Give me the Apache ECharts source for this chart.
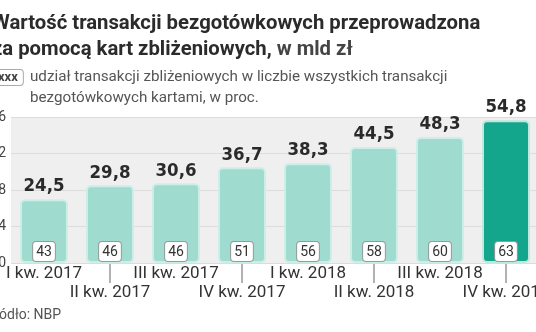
<!DOCTYPE html>
<html><head><meta charset="utf-8">
<script src="https://cdn.jsdelivr.net/npm/echarts@6/dist/echarts.min.js"></script>
<style>html,body{margin:0;padding:0;background:#fff}#c{width:536px;height:332px}</style>
</head><body><div id="c"></div>
<script>
const categories = ['I kw. 2017','II kw. 2017','III kw. 2017','IV kw. 2017','I kw. 2018','II kw. 2018','III kw. 2018','IV kw. 2018'];
const values = [24.5, 29.8, 30.6, 36.7, 38.3, 44.5, 48.3, 54.8];
const shares = [43, 46, 46, 51, 56, 58, 60, 63];
const yMin = 0, yMax = 56, yInterval = 14;

const chart = echarts.init(document.getElementById('c'), null, {renderer:'canvas'});
const light = {color:'#9fdccf', borderColor:'#cdeee6', borderWidth:2, borderRadius:4};
const dark = {color:'#14a68d', borderColor:'#bfe8de', borderWidth:2, borderRadius:4};
const condensed = '"DejaVu Sans Condensed", "Liberation Sans Narrow", Roboto, sans-serif';
chart.setOption({
  animation:false,
  backgroundColor:'#fff',
  title:[
    {left:-8, top:11, padding:0, text:'{b|Wartość transakcji bezgotówkowych przeprowadzona}\n{b|za pomocą kart zbliżeniowych,}{r| w mld zł}',
     textStyle:{rich:{
       b:{fontFamily:'Roboto', fontWeight:'bold', fontSize:20.3, lineHeight:26, color:'#2b2b2b'},
       r:{fontFamily:'Roboto', fontSize:20.3, lineHeight:26, color:'#444'}}}},
    {left:-6, top:70, padding:0, text:'{k|xxx}',
     textStyle:{rich:{k:{fontFamily:'Roboto', fontSize:13, color:'#444', backgroundColor:'#fff', borderColor:'#aaa', borderWidth:1, borderRadius:3, padding:[1,5,1,4]}}}},
    {left:30, top:67, padding:0, text:'udział transakcji zbliżeniowych w liczbie wszystkich transakcji\nbezgotówkowych kartami, w proc.',
     textStyle:{fontFamily:'Roboto', fontWeight:'normal', fontSize:15.2, lineHeight:21, color:'#555'}},
    {left:-14, top:308, padding:0, text:'Źródło: NBP', textStyle:{fontFamily:'Roboto', fontWeight:'normal', fontSize:14, color:'#555'}}
  ],
  grid:{left:11, right:-3, top:117, bottom:69, show:true, backgroundColor:'#efefef', borderWidth:0, containLabel:false, outerBoundsMode:'none'},
  xAxis:{type:'category', data:categories,
    axisLine:{show:false}, axisTick:{show:false},
    axisLabel:{interval:0, margin:1, hideOverlap:false,
      formatter:(v,i)=> i%2===1 ? '{line| }\n{t|'+v+'}' : '{t|'+v+'}',
      rich:{line:{width:1, height:19, lineHeight:19, backgroundColor:'#666'},
            t:{fontFamily:'Roboto', fontSize:17, lineHeight:20, color:'#333'}}}},
  yAxis:{type:'value', min:yMin, max:yMax, interval:yInterval,
    axisLine:{show:false}, axisTick:{show:false},
    axisLabel:{margin:5, fontFamily:'Roboto', fontSize:14, color:'#444'},
    splitLine:{lineStyle:{color:'#dcdcdc', width:1}}},
  series:[
    {type:'bar', barWidth:48, z:2,
     data: values.map((v,i)=> ({value:v, itemStyle: i===values.length-1 ? dark : light})),
     label:{show:true, position:'top', distance:3, fontFamily:condensed, fontWeight:'bold', fontSize:18.5, color:'#2a2a2a',
       formatter:p=>p.value.toFixed(1).replace('.',',')}},
    {type:'bar', barWidth:48, barGap:'-100%', z:3, silent:true,
     data: values, itemStyle:{color:'transparent'},
     label:{show:true, position:'insideBottom', distance:2, fontFamily:'Roboto', fontSize:14, color:'#333',
       backgroundColor:'#fff', borderColor:'#999', borderWidth:1, borderRadius:3, padding:[3,3,2,3],
       formatter:p=>String(shares[p.dataIndex])}}
  ]
});
</script></body></html>
